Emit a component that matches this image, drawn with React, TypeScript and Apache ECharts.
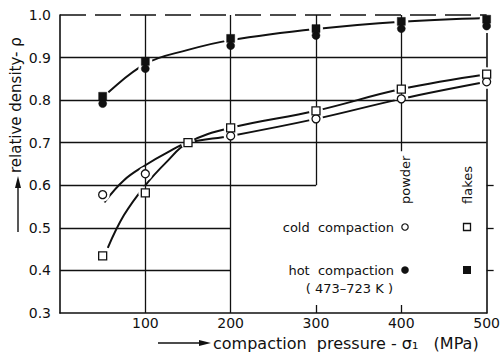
import React, { useEffect, useRef } from "react";
import * as echarts from "echarts";

// ---- data ----
const xTicks = [100, 200, 300, 400, 500];
const yTicks = [0.3, 0.4, 0.5, 0.6, 0.7, 0.8, 0.9, 1.0];

// hot compaction (473-723 K)
const hotPowder: [number, number][] = [[50, 0.792], [100, 0.874], [200, 0.928], [300, 0.952], [400, 0.968], [500, 0.974]];
const hotFlakes: [number, number][] = [[50, 0.809], [100, 0.891], [200, 0.945], [300, 0.968], [400, 0.985], [500, 0.99]];
const hotFit: [number, number][] = [[50, 0.806], [100, 0.885], [150, 0.918], [200, 0.941], [300, 0.967], [400, 0.984], [500, 0.993]];

// cold compaction
const coldPowder: [number, number][] = [[50, 0.578], [100, 0.627], [200, 0.716], [300, 0.756], [400, 0.803], [500, 0.843]];
const coldFlakes: [number, number][] = [[50, 0.434], [100, 0.582], [150, 0.70], [200, 0.735], [300, 0.775], [400, 0.826], [500, 0.861]];
const coldPowderFit: [number, number][] = [[52, 0.56], [75, 0.612], [100, 0.647], [125, 0.676], [150, 0.70], [200, 0.716], [300, 0.756], [400, 0.803], [500, 0.843]];
const coldFlakesFit: [number, number][] = [[56, 0.453], [75, 0.53], [100, 0.60], [125, 0.655], [150, 0.70], [200, 0.735], [300, 0.775], [400, 0.826], [500, 0.861]];

const INK = "#111";
const FONT = "DejaVu Sans";
const NB = "\u00a0";

export default function App() {
  const ref = useRef<HTMLDivElement>(null);
  useEffect(() => {
    if (!ref.current) return;
    const chart = echarts.init(ref.current, undefined, { renderer: "svg" });

    const seg = (a: [number, number], b: [number, number]) => [{ coord: a }, { coord: b }];
    const gridSegs = [
      seg([0, 0.9], [500, 0.9]),
      seg([0, 0.8], [500, 0.8]),
      seg([0, 0.7], [500, 0.7]),
      seg([0, 0.6], [300, 0.6]),
      seg([0, 0.5], [200, 0.5]),
      seg([0, 0.4], [200, 0.4]),
      seg([100, 0.3], [100, 1.0]),
      seg([200, 0.3], [200, 1.0]),
      seg([300, 0.6], [300, 1.0]),
      seg([400, 0.68], [400, 1.0]),
    ];

    const allMarks = [...hotPowder, ...hotFlakes, ...coldPowder, ...coldFlakes];

    const fitLine = (name: string, data: [number, number][]) => ({
      name,
      type: "line",
      data,
      smooth: 0.4,
      showSymbol: false,
      symbol: "none",
      z: 3,
      silent: true,
      lineStyle: { color: INK, width: 2 },
    });

    const marks = (name: string, data: [number, number][], symbol: string, filled: boolean) => ({
      name,
      type: "scatter",
      data,
      symbol,
      symbolSize: 8,
      z: 6,
      silent: true,
      itemStyle: filled
        ? { color: INK, borderColor: INK, borderWidth: 0.5, opacity: 1 }
        : { color: "#fff", borderColor: INK, borderWidth: 1.3, opacity: 1 },
    });

    chart.setOption({
      animation: false,
      grid: { left: 60, right: 12, top: 15, bottom: 43 },
      xAxis: {
        type: "value",
        min: 0,
        max: 500,
        interval: 100,
        axisLine: { show: true, lineStyle: { color: INK, width: 1.6 } },
        axisTick: { show: true, inside: true, length: 8, customValues: [300, 400], lineStyle: { color: INK, width: 1.3 } },
        axisLabel: {
          customValues: xTicks,
          color: INK,
          fontFamily: FONT,
          fontSize: 14,
          margin: 3,
        },
        splitLine: { show: false },
      },
      yAxis: [
        {
          type: "value",
          min: 0.3,
          max: 1.0,
          interval: 0.1,
          axisLine: { show: true, lineStyle: { color: INK, width: 1.6 } },
          axisTick: { show: false },
          axisLabel: {
            customValues: yTicks,
            color: INK,
            fontFamily: FONT,
            fontSize: 14,
            margin: 9,
            formatter: (v: number) => v.toFixed(1),
          },
          splitLine: { show: false },
        },
        {
          type: "value",
          position: "right",
          min: 0.3,
          max: 1.0,
          interval: 0.1,
          axisLine: { show: true, lineStyle: { color: INK, width: 1.6 } },
          axisTick: { show: true, inside: false, length: 7, customValues: [0.4, 0.5, 0.6], lineStyle: { color: INK, width: 1.3 } },
          axisLabel: { show: false },
          splitLine: { show: false },
        },
      ],
      series: [
        {
          name: "grid",
          type: "line",
          data: [[0, 0.3]],
          showSymbol: false,
          symbol: "none",
          z: 1,
          silent: true,
          lineStyle: { opacity: 0 },
          markLine: {
            silent: true,
            symbol: ["none", "none"],
            label: { show: false },
            lineStyle: { color: INK, width: 1.3, type: "solid" },
            emphasis: { disabled: true },
            data: gridSegs,
          },
        },
        {
          name: "top",
          type: "line",
          data: [[0, 1.0]],
          showSymbol: false,
          symbol: "none",
          z: 1,
          silent: true,
          lineStyle: { opacity: 0 },
          markLine: {
            silent: true,
            symbol: ["none", "none"],
            label: { show: false },
            lineStyle: { color: INK, width: 1.5, type: [26, 9] },
            emphasis: { disabled: true },
            data: [seg([0, 1.0], [500, 1.0])],
          },
        },
        fitLine("hotFit", hotFit),
        fitLine("coldPowderFit", coldPowderFit),
        fitLine("coldFlakesFit", coldFlakesFit),
        {
          name: "halo",
          type: "scatter",
          data: allMarks,
          symbol: "circle",
          symbolSize: 14,
          z: 4,
          silent: true,
          itemStyle: { color: "#fff", opacity: 1 },
        },
        marks("hotPowder", hotPowder, "circle", true),
        marks("hotFlakes", hotFlakes, "rect", true),
        marks("coldPowder", coldPowder, "circle", false),
        marks("coldFlakes", coldFlakes, "rect", false),
      ],
      graphic: [
        { type: "text", x: 405, y: 204, rotation: Math.PI / 2, style: { text: "powder", fill: INK, font: `13px "${FONT}"`, align: "left", verticalAlign: "middle" } },
        { type: "text", x: 467, y: 204, rotation: Math.PI / 2, style: { text: "flakes", fill: INK, font: `13px "${FONT}"`, align: "left", verticalAlign: "middle" } },
        { type: "text", x: 394, y: 227, style: { text: `cold${NB}${NB}compaction`, fill: INK, font: `13px "${FONT}"`, align: "right", verticalAlign: "middle" } },
        { type: "circle", shape: { cx: 405, cy: 227, r: 3.2 }, style: { fill: "#fff", stroke: INK, lineWidth: 1.2 } },
        { type: "rect", shape: { x: 463.5, y: 223.5, width: 7, height: 7 }, style: { fill: "#fff", stroke: INK, lineWidth: 1.3 } },
        { type: "text", x: 394, y: 270, style: { text: `hot${NB}${NB}compaction`, fill: INK, font: `13px "${FONT}"`, align: "right", verticalAlign: "middle" } },
        { type: "circle", shape: { cx: 405, cy: 270, r: 3.8 }, style: { fill: INK } },
        { type: "rect", shape: { x: 463, y: 266, width: 8, height: 8 }, style: { fill: INK } },
        { type: "text", x: 393, y: 288, style: { text: "( 473–723 K )", fill: INK, font: `13px "${FONT}"`, align: "right", verticalAlign: "middle" } },
        { type: "text", x: 16, y: 173, rotation: Math.PI / 2, style: { text: "relative density- ρ", fill: INK, font: `15px "${FONT}"`, align: "left", verticalAlign: "middle" } },
        { type: "line", shape: { x1: 18, y1: 232, x2: 18, y2: 184 }, style: { stroke: INK, lineWidth: 1.4 } },
        { type: "polygon", shape: { points: [[18, 176], [15, 188], [21, 188]] }, style: { fill: INK } },
        { type: "line", shape: { x1: 158, y1: 343, x2: 202, y2: 343 }, style: { stroke: INK, lineWidth: 1.4 } },
        { type: "polygon", shape: { points: [[211, 343], [199, 340], [199, 346]] }, style: { fill: INK } },
        { type: "text", x: 213, y: 343, style: { text: `compaction${NB}${NB}pressure${NB}-${NB}σ₁${NB}${NB}${NB}(MPa)`, fill: INK, font: `16px "${FONT}"`, align: "left", verticalAlign: "middle" } },
      ],
    });
    return () => chart.dispose();
  }, []);
  return <div ref={ref} style={{ position: "fixed", left: 0, top: 0, width: 503, height: 356, background: "#fff" }} />;
}
